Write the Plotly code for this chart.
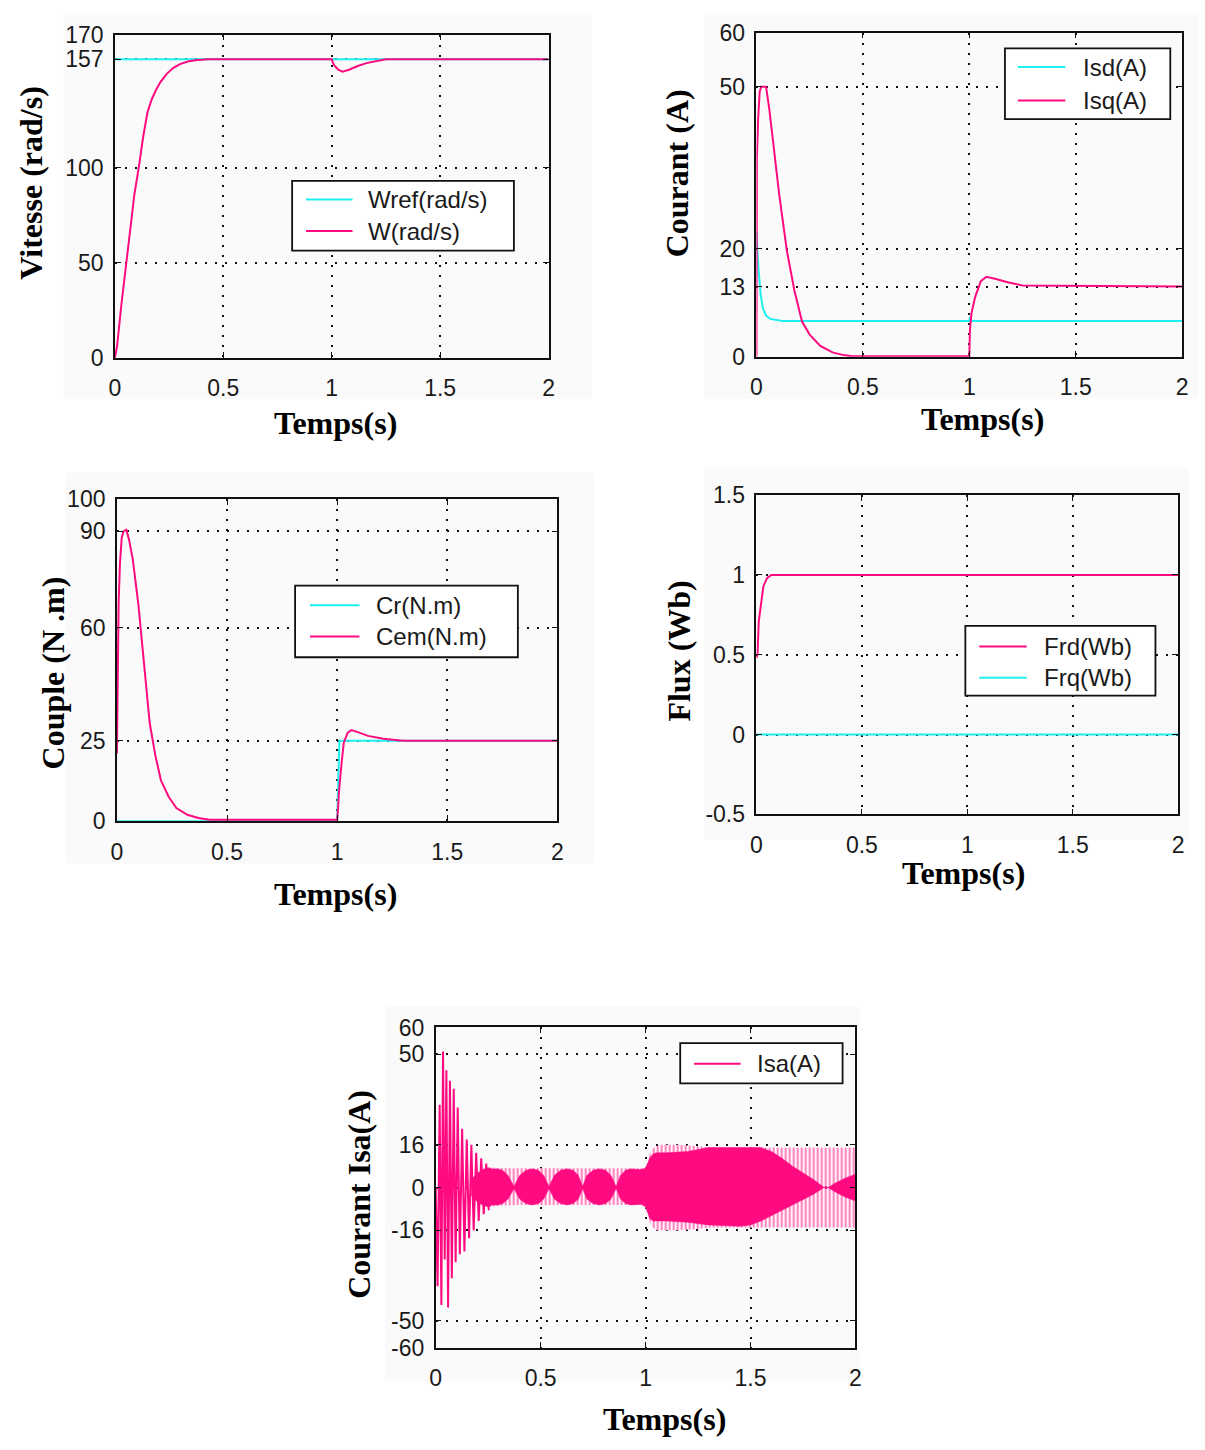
import plotly.graph_objects as go

# ---------------- data ----------------
# Plot 1 : speed
t_wref = [0, 2]
wref = [157, 157]
t_w = [0, 0.01, 0.03, 0.05, 0.07, 0.09, 0.11, 0.13, 0.15, 0.17, 0.19, 0.21, 0.24, 0.27, 0.30, 0.34, 0.38, 0.43,
       1.0, 1.01, 1.03, 1.05, 1.08, 1.12, 1.16, 1.20, 1.25, 2.0]
w = [0, 6, 28, 48, 68, 86, 100, 116, 129, 136, 141, 145, 149.5, 152.5, 154.5, 156, 156.6, 157,
     157, 154, 151.5, 150.5, 151.5, 153.5, 155, 156, 157, 157]

# Plot 2 : currents isd / isq
t_isd = [0, 0.005, 0.01, 0.02, 0.03, 0.045, 0.065, 0.12, 1.0, 1.003, 1.01, 2.0]
isd = [23, 19, 16, 11.5, 9, 7.6, 7.0, 6.6, 6.6, 7.3, 6.6, 6.6]
t_isq = [0, 0.002, 0.008, 0.015, 0.022, 0.045, 0.06, 0.08, 0.107, 0.143, 0.178, 0.214, 0.25, 0.30, 0.357,
         0.41, 0.45, 1.0, 1.003, 1.01, 1.027, 1.054, 1.08, 1.125, 1.18, 1.25, 2.0]
isq = [0, 37, 44, 49, 50, 50, 46, 39.5, 30, 19.6, 12.3, 6.5, 4.1, 2.0, 0.8,
       0.3, 0.1, 0.1, 5, 8, 11, 14, 14.8, 14.4, 13.8, 13.2, 13]

# Plot 3 : torque
t_cr = [0, 1.0, 1.01, 2.0]
cr = [0, 0, 25, 25]
t_cem = [0, 0.004, 0.008, 0.014, 0.022, 0.03, 0.043, 0.055, 0.072, 0.098, 0.123, 0.149, 0.175, 0.2, 0.235,
         0.27, 0.32, 0.37, 0.42, 1.0, 1.004, 1.008, 1.02, 1.03, 1.048, 1.065, 1.1, 1.14, 1.21, 1.28, 1.3, 2.0]
cem = [21, 52, 68, 80, 88, 90, 90.5, 87.5, 81.4, 67, 48.8, 30.5, 20.3, 12.7, 7.6,
       4.1, 2.0, 1.0, 0.5, 0.5, 4, 9, 18, 24.4, 27.5, 28.3, 27.5, 26.5, 25.6, 25.2, 25, 25]

# Plot 4 : flux
t_frd = [0, 0.005, 0.011, 0.018, 0.024, 0.033, 0.05, 0.07, 2.0]
frd = [0.48, 0.5, 0.71, 0.78, 0.83, 0.93, 0.98, 1.0, 1.0]
t_frq = [0, 2]
frq = [0, 0]

# Plot 5 : phase current isa
isa_tr_t = [0.000, 0.009, 0.019, 0.027, 0.035, 0.043, 0.051, 0.059, 0.068, 0.077, 0.086, 0.095, 0.105,
            0.115, 0.126, 0.137, 0.148, 0.159, 0.170, 0.181, 0.193, 0.205, 0.217, 0.229, 0.241, 0.253]
isa_tr_v = [0, -37, 31, -44, 51, -27, 44, -45, 40, -34, 37, -28, 30,
            -25, 22, -24, 18, -19, 16, -16, 13, -12.5, 11, -10, 9, -8.5]
# outer envelope of the oscillation (striped band)
isa_env_t = [0.25, 0.30, 0.40, 0.50, 0.60, 0.70, 0.80, 0.90, 0.98, 1.00, 1.01, 1.02, 1.035, 1.05, 1.07,
             1.15, 1.25, 1.30, 1.40, 1.50, 1.60, 1.70, 1.80, 1.90, 2.00]
isa_env_up = [7.6, 7.3, 7.2, 7.2, 7.2, 7.2, 7.2, 7.2, 7.2, 7.5, 10, 12.5, 14.5, 15.5, 16,
              16, 15.5, 15.2, 15, 15, 15, 15, 15, 15, 15]
isa_env_lo = [-7.4, -6.8, -6.5, -6.5, -6.5, -6.5, -6.5, -6.5, -6.5, -7.5, -10.5, -13, -15, -16, -16,
              -16, -15.5, -15, -15, -15, -15, -15, -15, -15, -15]
# dense (solid) core of the oscillation
isa_core_t = [0.17, 0.20, 0.23, 0.25, 0.27, 0.296, 0.32, 0.345, 0.373, 0.40, 0.43, 0.46, 0.49, 0.515, 0.54,
              0.565, 0.595, 0.626, 0.655, 0.68, 0.70, 0.72, 0.75, 0.78, 0.81, 0.835, 0.86, 0.88, 0.905,
              0.93, 0.96, 0.98, 1.00, 1.01, 1.02, 1.035, 1.05, 1.10, 1.20, 1.30, 1.45, 1.50, 1.55, 1.60,
              1.65, 1.70, 1.75, 1.80, 1.86, 1.90, 1.95, 2.00]
isa_core_up = [3, 5.5, 7, 7.4, 7.0, 7.0, 6.4, 4.5, 0.4, 4.5, 6.5, 7.0, 6.5, 4.5, 0.4,
               4.5, 6.5, 7.0, 6.5, 4.5, 0.4, 4.5, 6.5, 7.0, 6.5, 4.5, 0.4, 4.5, 6.5,
               7.0, 6.8, 6.8, 7.2, 9, 11, 12.5, 13, 13, 13.5, 15, 15, 15, 15, 13.5,
               11, 8, 5.5, 3, -0.5, 1.5, 3.5, 5]
isa_core_lo = [-3, -5.5, -6.8, -7.2, -6.5, -6.5, -6.0, -4.3, -0.4, -4.3, -6.0, -6.5, -6.0, -4.3, -0.4,
               -4.3, -6.0, -6.5, -6.0, -4.3, -0.4, -4.3, -6.0, -6.5, -6.0, -4.3, -0.4, -4.3, -6.0,
               -6.5, -6.3, -6.3, -7.2, -9.5, -11.5, -12.5, -12.5, -12.5, -13, -14, -14.5, -14, -12.5, -10.5,
               -8.5, -6.5, -4.5, -2.5, 0.5, -1.5, -3.5, -5]

x_ticks = [0, 0.5, 1, 1.5, 2]
x_ticktext = ["0", "0.5", "1", "1.5", "2"]
y1_ticks = [0, 50, 100, 157, 170]
y2_ticks = [0, 13, 20, 50, 60]
y3_ticks = [0, 25, 60, 90, 100]
y4_ticks = [-0.5, 0, 0.5, 1, 1.5]
y4_ticktext = ["-0.5", "0", "0.5", "1", "1.5"]
y5_ticks = [-60, -50, -16, 0, 16, 50, 60]

CYAN = "#1ef0f0"
PINK = "#ff0a80"

# ---------------- layout helpers ----------------
W, H = 1205, 1450
def px(x):
    return x / W
def py(y):
    return 1 - y / H

fig = go.Figure()

# subplot boxes (pixels): left, right, top, bottom
boxes = {
    1: (110, 548, 22, 351),
    2: (758, 1188, 20, 350),
    3: (112, 557, 495, 823),
    4: (758, 1184, 491, 816),
    5: (434, 858, 1033, 1359),
}
yranges = {1: [0, 170], 2: [0, 60], 3: [0, 100], 4: [-0.5, 1.5], 5: [-60, 60]}
yticks = {1: (y1_ticks, [str(v) for v in y1_ticks]),
          2: (y2_ticks, [str(v) for v in y2_ticks]),
          3: (y3_ticks, [str(v) for v in y3_ticks]),
          4: (y4_ticks, y4_ticktext),
          5: (y5_ticks, [str(v) for v in y5_ticks])}

tickfont = dict(family="Liberation Sans, Arial, sans-serif", size=23, color="#1a1a1a")
grid = dict(showgrid=True, gridcolor="#111111", gridwidth=1.6, griddash="2px,8px")
axline = dict(showline=True, linecolor="#111111", linewidth=1.6, mirror="ticks",
              ticks="inside", ticklen=6, tickcolor="#111111", zeroline=False)

layout_axes = {}
for i, (l, r, t, b) in boxes.items():
    xa = "xaxis" if i == 1 else f"xaxis{i}"
    ya = "yaxis" if i == 1 else f"yaxis{i}"
    layout_axes[xa] = dict(domain=[px(l), px(r)], anchor=f"y{'' if i == 1 else i}", range=[0, 2],
                           tickvals=x_ticks, ticktext=x_ticktext, tickfont=tickfont,
                           ticklabelstandoff=9, **grid, **axline)
    layout_axes[ya] = dict(domain=[py(b), py(t)], anchor=f"x{'' if i == 1 else i}", range=yranges[i],
                           tickvals=yticks[i][0], ticktext=yticks[i][1], tickfont=tickfont,
                           ticklabelstandoff=5, **grid, **axline)

def ax(i):
    return ("x", "y") if i == 1 else (f"x{i}", f"y{i}")

def line(xs, ys, color, i):
    xr, yr = ax(i)
    fig.add_trace(go.Scatter(x=xs, y=ys, mode="lines", line=dict(color=color, width=2),
                             xaxis=xr, yaxis=yr, showlegend=False, hoverinfo="skip"))

# plot 1
line(t_wref, wref, CYAN, 1)
line(t_w, w, PINK, 1)
# plot 2
line(t_isd, isd, CYAN, 2)
line(t_isq, isq, PINK, 2)
# plot 3
line(t_cr, cr, CYAN, 3)
line(t_cem, cem, PINK, 3)
# plot 4
line(t_frd, frd, PINK, 4)
line(t_frq, frq, CYAN, 4)
# plot 5
xr, yr = ax(5)
fig.add_trace(go.Scatter(x=isa_env_t + isa_env_t[::-1], y=isa_env_up + isa_env_lo[::-1],
                         mode="lines", fill="toself", line=dict(width=0, color=PINK),
                         fillcolor="rgba(255,255,255,1)",
                         fillpattern=dict(shape="|", fgcolor=PINK, bgcolor="white", size=4, solidity=0.55),
                         xaxis=xr, yaxis=yr, showlegend=False, hoverinfo="skip"))
fig.add_trace(go.Scatter(x=isa_core_t + isa_core_t[::-1], y=isa_core_up + isa_core_lo[::-1],
                         mode="lines", fill="toself", line=dict(width=0.5, color=PINK), fillcolor=PINK,
                         xaxis=xr, yaxis=yr, showlegend=False, hoverinfo="skip"))
fig.add_trace(go.Scatter(x=isa_tr_t, y=isa_tr_v, mode="lines", line=dict(color=PINK, width=2),
                         xaxis=xr, yaxis=yr, showlegend=False, hoverinfo="skip"))

shapes = []
annotations = []

# faint figure-region backgrounds
for (x0, y0, x1, y1) in [(58, 0, 592, 393), (705, 0, 1205, 393), (60, 468, 595, 866),
                         (705, 463, 1195, 842), (383, 1012, 862, 1393)]:
    shapes.append(dict(type="rect", xref="paper", yref="paper", x0=px(x0), x1=px(x1), y0=py(y1), y1=py(y0),
                       fillcolor="#fafafa", line=dict(width=0), layer="below"))

# legends: box, entries (y, color, label)
legends = [
    ((289, 513, 171, 242), (303, 350, 364), [(190, CYAN, "Wref(rad/s)"), (222, PINK, "W(rad/s)")]),
    ((1009, 1176, 36, 108), (1022, 1070, 1086), [(55, CYAN, "Isd(A)"), (89, PINK, "Isq(A)")]),
    ((292, 517, 583, 656), (307, 357, 372), [(603, CYAN, "Cr(N.m)"), (635, PINK, "Cem(N.m)")]),
    ((969, 1161, 624, 695), (983, 1031, 1046), [(645, PINK, "Frd(Wb)"), (677, CYAN, "Frq(Wb)")]),
    ((681, 845, 1049, 1090), (695, 742, 757), [(1070, PINK, "Isa(A)")]),
]
legfont = dict(family="Liberation Sans, Arial, sans-serif", size=24, color="#1a1a1a")
for (l, r, t, b), (lx0, lx1, tx), entries in legends:
    shapes.append(dict(type="rect", xref="paper", yref="paper", x0=px(l), x1=px(r), y0=py(b), y1=py(t),
                       fillcolor="white", line=dict(color="#111111", width=1.8), layer="above"))
    for (ey, col, lab) in entries:
        shapes.append(dict(type="line", xref="paper", yref="paper", x0=px(lx0), x1=px(lx1), y0=py(ey), y1=py(ey),
                           line=dict(color=col, width=2), layer="above"))
        annotations.append(dict(text=lab, xref="paper", yref="paper", x=px(tx), y=py(ey), xanchor="left",
                                yanchor="middle", showarrow=False, font=legfont))

# axis titles
titlefont = dict(family="Liberation Serif, Times New Roman, serif", size=32, color="black")
xtitles = [(333, 417), (986, 413), (333, 897), (967, 876), (665, 1432)]
for (x, y) in xtitles:
    annotations.append(dict(text="<b>Temps(s)</b>", xref="paper", yref="paper", x=px(x), y=py(y),
                            xanchor="center", yanchor="middle", showarrow=False, font=titlefont))
ytitles = [("Vitesse (rad/s)", 25, 173), ("Courant (A)", 678, 163), ("Couple (N .m)", 47, 672),
           ("Flux (Wb)", 680, 650), ("Courant Isa(A)", 357, 1203)]
for (txt, x, y) in ytitles:
    annotations.append(dict(text=f"<b>{txt}</b>", xref="paper", yref="paper", x=px(x), y=py(y),
                            xanchor="center", yanchor="middle", textangle=-90, showarrow=False, font=titlefont))

fig.update_layout(width=W, height=H, margin=dict(l=0, r=0, t=0, b=0, pad=0),
                  paper_bgcolor="white", plot_bgcolor="white", showlegend=False,
                  shapes=shapes, annotations=annotations, **layout_axes)

# remove the default 8px page margin so the figure sits at the window's top-left corner
fig.write_html("out.html", config={"displayModeBar": False},
               post_script="document.body.style.margin='0';document.body.style.overflow='hidden';")
